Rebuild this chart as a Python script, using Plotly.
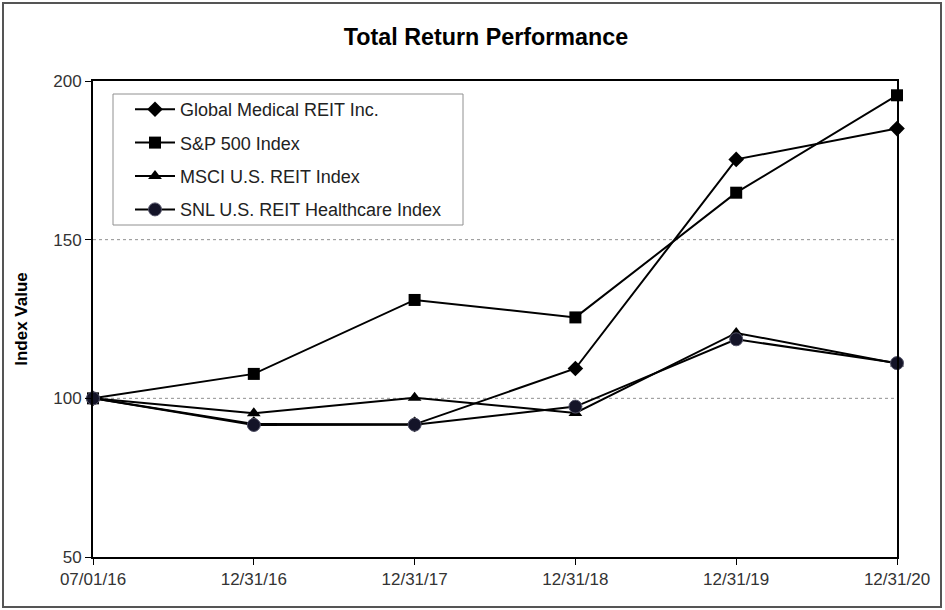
import plotly.graph_objects as go

dates = ["07/01/16", "12/31/16", "12/31/17", "12/31/18", "12/31/19", "12/31/20"]
gmre = [100, 91.9, 91.8, 109.4, 175.3, 185.0]
sp500 = [100, 107.7, 131.0, 125.5, 164.8, 195.5]
msci = [100, 95.3, 100.2, 95.4, 120.6, 111.0]
snl = [100, 91.6, 91.7, 97.4, 118.6, 111.1]

FONT = "Liberation Sans, Arial, sans-serif"

fig = go.Figure()
series = [
    ("Global Medical REIT Inc.", gmre, dict(symbol="diamond", size=12, color="black")),
    ("S&P 500 Index", sp500, dict(symbol="square", size=12, color="black")),
    ("MSCI U.S. REIT Index", msci, dict(symbol="triangle-up", size=12, color="black")),
    ("SNL U.S. REIT Healthcare Index", snl, dict(symbol="circle", size=13, color="#141428",
                                                 line=dict(color="#55556a", width=1))),
]
for i, (name, vals, mk) in enumerate(series):
    fig.add_trace(go.Scatter(
        x=dates, y=vals, name=name, mode="lines+markers",
        line=dict(color="black", width=2), marker=mk,
        legendgroup=f"g{i}", cliponaxis=False,
    ))

W, H = 945, 610
L, R, T, B = 93, 48, 81, 53
pw, ph = W - L - R, H - T - B

fig.update_layout(
    width=W, height=H,
    margin=dict(l=L, r=R, t=T, b=B),
    paper_bgcolor="white", plot_bgcolor="white",
    font=dict(family=FONT, size=17, color="#333333"),
    title=dict(text="<b>Total Return Performance</b>", x=(486) / W, xanchor="center",
               y=1 - 37 / H, yanchor="middle",
               font=dict(family=FONT, size=23.3, color="black")),
    showlegend=True,
    legend=dict(x=(130 - L) / pw, y=1 - (91 - T) / ph, xanchor="left", yanchor="top",
                borderwidth=0, bgcolor="rgba(0,0,0,0)",
                font=dict(family=FONT, size=18, color="#222222"),
                tracegroupgap=7, itemwidth=40),
    xaxis=dict(type="category", range=[0, 5], showgrid=False, zeroline=False,
               showline=True, linecolor="black", linewidth=2, mirror=True,
               ticks="outside", ticklen=6, tickcolor="black", tickwidth=1,
               tickfont=dict(family=FONT, size=17, color="#333333")),
    yaxis=dict(range=[50, 200], tickvals=[50, 100, 150, 200],
               showgrid=False, zeroline=False,
               showline=True, linecolor="black", linewidth=2, mirror=True,
               ticks="outside", ticklen=6, tickcolor="black", tickwidth=1,
               tickfont=dict(family=FONT, size=17, color="#333333"),
               title=dict(text="<b>Index Value</b>", standoff=21,
                          font=dict(family=FONT, size=17, color="black"))),
)

# dotted gridlines at 100 and 150
for v in [100, 150]:
    fig.add_shape(type="line", xref="paper", yref="y", x0=0, x1=1, y0=v, y1=v,
                  line=dict(color="#909090", width=1, dash="dot"), layer="below")

# legend box
fig.add_shape(type="rect", xref="paper", yref="paper",
              x0=(113 - L) / pw, x1=(463 - L) / pw,
              y0=1 - (225 - T) / ph, y1=1 - (94 - T) / ph,
              line=dict(color="#909090", width=1), fillcolor="white", layer="below")

# outer frame
fig.add_shape(type="rect", xref="paper", yref="paper",
              x0=(3 - L) / pw, x1=1 + (R - 4) / pw,
              y0=-(B - 3) / ph, y1=1 + (T - 3) / ph,
              line=dict(color="#555555", width=2), fillcolor="rgba(0,0,0,0)")

fig.write_html("out.html", config={"displayModeBar": False},
               post_script="document.body.style.margin='0';document.body.style.padding='0';")
